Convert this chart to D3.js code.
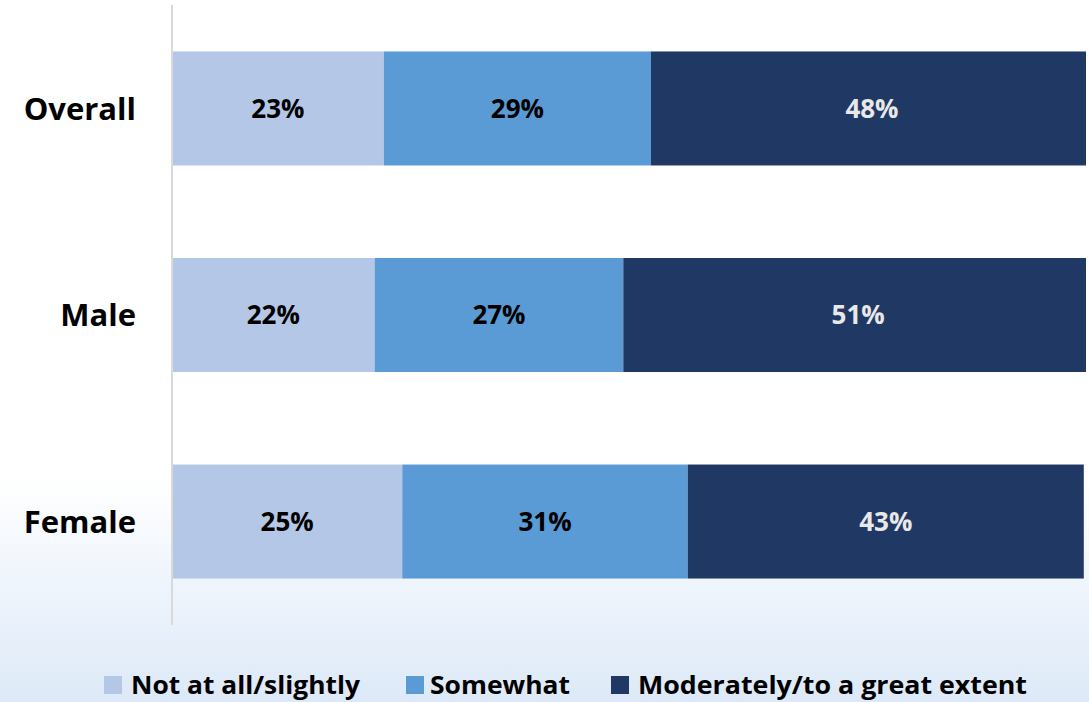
<!DOCTYPE html>
<html>
<head>
<meta charset="utf-8">
<script src="https://cdn.jsdelivr.net/npm/d3@7"></script>
<style>
  html, body { margin: 0; padding: 0; background: #fff; }
  svg { display: block; }
</style>
</head>
<body>
<svg id="chart" width="1089" height="702"></svg>
<script>
// Survey responses by group (percent)
const categories = ["Overall", "Male", "Female"];
const seriesNames = ["Not at all/slightly", "Somewhat", "Moderately/to a great extent"];
const notAtAll = [23, 22, 25];
const somewhat = [29, 27, 31];
const moderately = [48, 51, 43];
const seriesColors = ["#b4c7e7", "#5b9bd5", "#203864"];
const labelColors = ["#000000", "#000000", "#e8e8e8"];

const W = 1089, H = 702;
const svg = d3.select("#chart");

// soft blue wash at the bottom of the panel
const defs = svg.append("defs");
const grad = defs.append("linearGradient")
  .attr("id", "bgGrad").attr("x1", 0).attr("y1", 0).attr("x2", 0).attr("y2", 1);
grad.append("stop").attr("offset", "0").attr("stop-color", "#ffffff");
grad.append("stop").attr("offset", "0.68").attr("stop-color", "#ffffff");
grad.append("stop").attr("offset", "1").attr("stop-color", "#dde9f8");
svg.append("rect").attr("width", W).attr("height", H).attr("fill", "url(#bgGrad)");

// plot area clip
defs.append("clipPath").attr("id", "plotClip")
  .append("rect").attr("x", 0).attr("y", 0).attr("width", 1086).attr("height", H);

const rows = categories.map((c, i) => ({
  cat: c,
  [seriesNames[0]]: notAtAll[i],
  [seriesNames[1]]: somewhat[i],
  [seriesNames[2]]: moderately[i]
}));
const stacked = d3.stack().keys(seriesNames)(rows);

const x = d3.scaleLinear().domain([0, 100]).range([172, 1093]);
const y = d3.scaleBand().domain(categories).range([5, 625])
  .paddingInner(0.448).paddingOuter(0.225);

// bars
const layers = svg.append("g").attr("clip-path", "url(#plotClip)")
  .selectAll("g")
  .data(stacked).join("g")
  .attr("fill", (d, i) => seriesColors[i]);

layers.selectAll("rect")
  .data(d => d.map(v => ({ v, key: d.key })))
  .join("rect")
  .attr("x", d => x(d.v[0]))
  .attr("y", d => y(d.v.data.cat))
  .attr("width", d => x(d.v[1]) - x(d.v[0]))
  .attr("height", y.bandwidth());

// value labels
stacked.forEach((layer, si) => {
  svg.append("g").selectAll("text")
    .data(layer).join("text")
    .attr("x", d => (x(d[0]) + x(d[1])) / 2)
    .attr("y", d => y(d.data.cat) + y.bandwidth() / 2)
    .attr("dy", "0.36em")
    .attr("text-anchor", "middle")
    .attr("font-family", "'Open Sans', 'Noto Sans', sans-serif")
    .attr("font-weight", "bold")
    .attr("font-size", 26)
    .attr("fill", labelColors[si])
    .text(d => (d[1] - d[0]) + "%");
});

// category axis
const yAxis = svg.append("g")
  .attr("transform", "translate(172,0)")
  .call(d3.axisLeft(y).tickSize(0).tickPadding(36));
yAxis.select(".domain").attr("stroke", "#d9d9d9").attr("stroke-width", 2)
  .attr("d", "M0,5V625");
yAxis.selectAll("text")
  .attr("font-family", "'Open Sans', 'Noto Sans', sans-serif")
  .attr("font-weight", "bold")
  .attr("font-size", 31)
  .attr("fill", "#000")
  .attr("dy", "0.36em");

// legend
const legendItems = [
  { sx: 104, tx: 131, tw: 229 },
  { sx: 406, tx: 430, tw: 140 },
  { sx: 611, tx: 638, tw: 389 }
];
const legend = svg.append("g");
seriesNames.forEach((name, i) => {
  const it = legendItems[i];
  legend.append("rect")
    .attr("x", it.sx).attr("y", 676).attr("width", 18).attr("height", 18)
    .attr("fill", seriesColors[i]);
  legend.append("text")
    .attr("x", it.tx).attr("y", 694)
    .attr("font-family", "'Open Sans', 'Noto Sans', sans-serif")
    .attr("font-weight", "bold")
    .attr("font-size", 25)
    .attr("textLength", it.tw)
    .attr("lengthAdjust", "spacingAndGlyphs")
    .attr("fill", "#000")
    .text(name);
});
</script>
</body>
</html>
